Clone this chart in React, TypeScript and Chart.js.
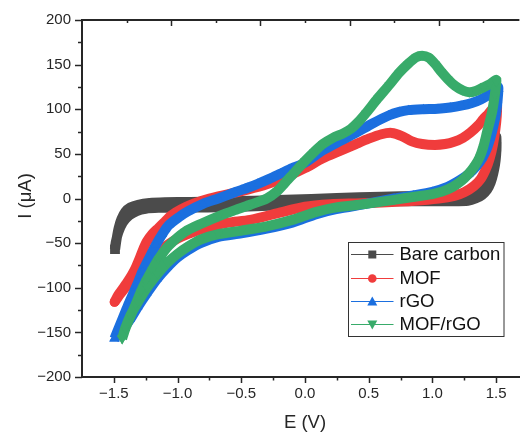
import React, { useEffect, useRef } from "react";
import { Chart, registerables } from "chart.js";

Chart.register(...registerables);

// ---------- axes ----------
const X_MIN = -1.75;
const X_MAX = 1.683;
const Y_MIN = -200;
const Y_MAX = 200;
const X_TICKS = [-1.5, -1.0, -0.5, 0, 0.5, 1.0, 1.5];
const X_MINOR = [-1.25, -0.75, -0.25, 0.25, 0.75, 1.25];
const Y_TICKS = [-200, -150, -100, -50, 0, 50, 100, 150, 200];
const Y_MINOR = [-175, -125, -75, -25, 25, 75, 125, 175];
const TOP_MAJOR = [-1.05, -0.35, 0.35, 1.05];
const TOP_MINOR = [-1.4, -0.7, 0, 0.7, 1.4];
const X_TITLE = "E (V)";
const Y_TITLE = "I (\u03bcA)";

// ---------- series ----------
const SERIES_NAMES = ["Bare carbon", "MOF", "rGO", "MOF/rGO"];
const SERIES_COLORS = ["#4b4b4b", "#f03c3c", "#1b6fdf", "#38ab6a"];

const BARE_E = [
  -1.49, -1.478, -1.462, -1.44, -1.41, -1.37, -1.31, -1.22, -1.1, -0.9, -0.7, -0.4, -0.15, 0.25, 0.6, 0.9, 1.1, 1.21,
  1.29, 1.34, 1.39, 1.427, 1.455, 1.475, 1.487, 1.494,
  1.502, 1.503, 1.5, 1.492, 1.478, 1.458, 1.43, 1.39, 1.34, 1.28, 1.15, 0.8, 0.5, 0.25, -0.17, -0.5, -0.76, -1.0,
  -1.15, -1.25, -1.32, -1.38, -1.43, -1.465, -1.485, -1.492,
];
const BARE_I = [
  -57, -45, -33, -23, -15, -10, -7, -5, -4.2, -3.8, -3.3, -2.5, -1.5, 0.6, 2, 2.8, 3.5, 4.5,
  7, 10, 15, 20, 30, 41, 55, 69,
  69, 58, 48, 38, 28, 18, 10, 4, 0, -2.5, -3, -3, -3.5, -4.5, -7.6, -9.2, -10, -10.3,
  -10.5, -11.5, -14, -19, -27, -38, -49, -57,
];

const MOF_E = [
  -1.495, -1.465, -1.43, -1.4, -1.36, -1.33, -1.3, -1.27, -1.24, -1.2, -1.15, -1.1, -1.05, -0.97, -0.87, -0.75, -0.6,
  -0.45, -0.3, -0.15, 0.0, 0.14, 0.27, 0.4, 0.5, 0.6, 0.68, 0.76, 0.84, 0.92, 1.02, 1.1, 1.17, 1.24, 1.3, 1.36, 1.4,
  1.44, 1.475, 1.505,
  1.508, 1.505, 1.495, 1.475, 1.45, 1.42, 1.38, 1.327, 1.25, 1.173, 1.05, 0.86, 0.6, 0.4, 0.2, 0.0, -0.22, -0.43,
  -0.6, -0.7, -0.8, -0.92, -1.0, -1.07, -1.15, -1.22, -1.28, -1.34, -1.4, -1.45, -1.495,
];
const MOF_I = [
  -116, -108, -101, -95, -86, -78, -68, -57, -48, -40, -33, -26, -19, -12, -5.5, 0, 5,
  10, 16, 24, 34, 45, 53, 61, 67, 72, 73.5, 70, 64, 61, 60, 61, 63.5, 68, 74, 82, 89,
  95, 101, 106,
  104, 92, 78, 60, 45, 33, 22, 14, 7, 3, 0, -2.5, -4.5, -5.5, -6.5, -9.3, -16.7, -24,
  -27, -30, -34, -40, -45, -51, -60, -70, -79, -88, -98, -107, -116,
];

const RGO_E = [
  -1.495, -1.47, -1.43, -1.39, -1.35, -1.31, -1.276, -1.22, -1.17, -1.12, -1.07, -0.99, -0.92, -0.8, -0.68, -0.55,
  -0.45, -0.37, -0.28, -0.19, -0.1, 0.0, 0.14, 0.27, 0.4, 0.53, 0.657, 0.74, 0.812, 0.93, 1.044, 1.14, 1.225, 1.31,
  1.38, 1.44, 1.482, 1.515,
  1.518, 1.512, 1.5, 1.48, 1.455, 1.425, 1.39, 1.345, 1.29, 1.22, 1.12, 1.0, 0.85, 0.7, 0.48, 0.245, 0.09, -0.1,
  -0.31, -0.5, -0.68, -0.82, -0.92, -1.0, -1.08, -1.16, -1.24, -1.31, -1.37, -1.43, -1.495,
];
const RGO_I = [
  -157, -148, -134, -120, -107, -94, -82, -66, -52, -40, -30, -21, -14.5, -6, 0, 7,
  12, 16.5, 22, 28, 34, 40, 54, 64, 73.5, 84, 93, 97, 99, 100, 100.5, 102, 104, 107,
  111, 116, 120, 125,
  123, 110, 96, 82, 68, 55, 45, 36, 28, 21, 13, 7.5, 3.5, 0, -6, -12, -17.5, -27,
  -34, -39, -43, -50, -58, -66, -77, -90, -106, -121, -135, -147, -157,
];

const MOFRGO_E = [
  -1.435, -1.41, -1.37, -1.33, -1.29, -1.25, -1.2, -1.15, -1.07, -0.94, -0.81, -0.68, -0.55, -0.42, -0.3, -0.22,
  -0.16, -0.09, 0.0, 0.07, 0.14, 0.22, 0.3, 0.36, 0.42, 0.48, 0.57, 0.66, 0.74, 0.81, 0.87, 0.92, 0.97, 1.02, 1.07,
  1.12, 1.18, 1.24, 1.29, 1.34, 1.4, 1.45, 1.5,
  1.502, 1.49, 1.47, 1.45, 1.43, 1.4, 1.37, 1.33, 1.28, 1.23, 1.16, 1.08, 1.0, 0.86, 0.7, 0.48, 0.245, 0.09, -0.1,
  -0.31, -0.5, -0.68, -0.82, -0.92, -1.0, -1.08, -1.16, -1.24, -1.31, -1.37, -1.41, -1.435,
];
const MOFRGO_I = [
  -157, -146, -132, -119, -105, -93, -80, -68, -53, -37, -28, -20, -13, -6.5, 0, 8,
  17, 28, 42, 52, 61, 68, 73, 78, 86, 96, 112, 127, 141, 151, 158, 160, 158, 151, 142,
  134, 126, 121, 119, 120.5, 124.5, 128, 133,
  131, 116, 98, 86, 75, 58, 46, 36, 27, 20, 13, 8, 5, 2, -1.5, -6, -10, -15, -24,
  -31.5, -36, -40, -46, -54, -62, -72, -85, -100, -116, -131, -145, -157,
];

const SERIES_E = [BARE_E, MOF_E, RGO_E, MOFRGO_E];
const SERIES_I = [BARE_I, MOF_I, RGO_I, MOFRGO_I];
const POINT_STYLES = ["rect", "circle", "triangle", "triangle"];
const POINT_ROT = [0, 0, 0, 180];
const END_R = [6.6, 4.8, 6.0, 6.0];
const MID_R = [0, 0, 5.4, 5.4];

const FONT = "'Liberation Sans', Arial, Helvetica, sans-serif";
const AXIS_COLOR = "#262626";
const TEXT_COLOR = "#262626";

const fmt = (v: number, d: number) => (v < 0 ? "\u2212" : "") + Math.abs(v).toFixed(d);

function drawMarker(ctx: CanvasRenderingContext2D, kind: number, x: number, y: number) {
  ctx.beginPath();
  if (kind === 0) {
    ctx.rect(x - 4, y - 4, 8, 8);
  } else if (kind === 1) {
    ctx.arc(x, y, 4.3, 0, Math.PI * 2);
  } else if (kind === 2) {
    ctx.moveTo(x, y - 5);
    ctx.lineTo(x + 5, y + 4);
    ctx.lineTo(x - 5, y + 4);
    ctx.closePath();
  } else {
    ctx.moveTo(x, y + 5);
    ctx.lineTo(x + 5, y - 4);
    ctx.lineTo(x - 5, y - 4);
    ctx.closePath();
  }
  ctx.fill();
}

const decorPlugin = {
  id: "decor",
  afterDraw(chart: any) {
    const { ctx, chartArea: a, scales } = chart;
    const x = scales.x;
    const y = scales.y;
    ctx.save();
    ctx.strokeStyle = AXIS_COLOR;
    // top axis line
    ctx.lineWidth = 2;
    ctx.beginPath();
    ctx.moveTo(a.left - 1, a.top);
    ctx.lineTo(a.right, a.top);
    ctx.stroke();
    ctx.lineWidth = 1.5;
    const tick = (x1: number, y1: number, x2: number, y2: number) => {
      ctx.beginPath();
      ctx.moveTo(x1, y1);
      ctx.lineTo(x2, y2);
      ctx.stroke();
    };
    X_TICKS.forEach((v) => {
      const px = Math.round(x.getPixelForValue(v)) + 0.5;
      tick(px, a.bottom, px, a.bottom + 6);
    });
    X_MINOR.forEach((v) => {
      const px = Math.round(x.getPixelForValue(v)) + 0.5;
      tick(px, a.bottom, px, a.bottom + 3.5);
    });
    Y_TICKS.forEach((v) => {
      const py = Math.round(y.getPixelForValue(v)) + 0.5;
      tick(a.left - 7, py, a.left, py);
    });
    Y_MINOR.forEach((v) => {
      const py = Math.round(y.getPixelForValue(v)) + 0.5;
      tick(a.left - 4, py, a.left, py);
    });
    TOP_MAJOR.forEach((v) => {
      const px = Math.round(x.getPixelForValue(v)) + 0.5;
      tick(px, a.top, px, a.top + 6);
    });
    TOP_MINOR.forEach((v) => {
      const px = Math.round(x.getPixelForValue(v)) + 0.5;
      tick(px, a.top, px, a.top + 3);
    });

    // axis titles
    ctx.fillStyle = TEXT_COLOR;
    ctx.font = `18.5px ${FONT}`;
    ctx.textAlign = "center";
    ctx.textBaseline = "middle";
    ctx.fillText(X_TITLE, x.getPixelForValue(0), 423);
    ctx.save();
    ctx.translate(25.5, 196);
    ctx.rotate(-Math.PI / 2);
    ctx.fillText(Y_TITLE, 0, 0);
    ctx.restore();

    // legend
    const bx = 348.5, by = 242.5, bw = 155.5, bh = 94;
    ctx.fillStyle = "#ffffff";
    ctx.fillRect(bx, by, bw, bh);
    ctx.strokeStyle = "#333333";
    ctx.lineWidth = 1;
    ctx.strokeRect(bx, by, bw, bh);
    const rows = [254.3, 278.3, 300.7, 324];
    SERIES_NAMES.forEach((name, i) => {
      const ry = rows[i];
      ctx.strokeStyle = SERIES_COLORS[i];
      ctx.lineWidth = 1;
      ctx.beginPath();
      ctx.moveTo(351, Math.round(ry) + 0.5);
      ctx.lineTo(393.5, Math.round(ry) + 0.5);
      ctx.stroke();
      ctx.fillStyle = SERIES_COLORS[i];
      drawMarker(ctx, i, 372.3, Math.round(ry) + 0.5);
      ctx.fillStyle = "#111111";
      ctx.font = `18.5px ${FONT}`;
      ctx.textAlign = "left";
      ctx.textBaseline = "middle";
      ctx.fillText(name, 399.5, ry + 1);
    });
    ctx.restore();
  },
};

export default function App() {
  const canvasRef = useRef<HTMLCanvasElement | null>(null);

  useEffect(() => {
    document.body.style.margin = "0";
    const canvas = canvasRef.current;
    if (!canvas) return;
    const datasets = SERIES_NAMES.map((name, i) => {
      const es = SERIES_E[i];
      const n = es.length;
      let turn = 0;
      es.forEach((e, k) => {
        if (e > es[turn]) turn = k;
      });
      return {
        label: name,
        data: es.map((e, k) => ({ x: e, y: SERIES_I[i][k] })),
        showLine: true,
        borderColor: SERIES_COLORS[i],
        backgroundColor: SERIES_COLORS[i],
        borderWidth: 10,
        borderJoinStyle: "round" as const,
        borderCapStyle: "butt" as const,
        tension: 0.25,
        pointStyle: POINT_STYLES[i] as any,
        rotation: POINT_ROT[i],
        pointRadius: (c: any) => {
          const k = c.dataIndex;
          return k === 0 || k === n - 1 || k === turn ? END_R[i] : MID_R[i];
        },
        pointBorderWidth: 0,
        pointBackgroundColor: SERIES_COLORS[i],
        order: 3 - i,
      };
    });

    const chart = new Chart(canvas, {
      type: "scatter",
      data: { datasets },
      options: {
        responsive: false,
        maintainAspectRatio: false,
        animation: false,
        devicePixelRatio: 1,
        layout: { padding: { top: 18, right: 0, bottom: 0, left: 0 } },
        plugins: { legend: { display: false }, tooltip: { enabled: false } },
        scales: {
          x: {
            type: "linear",
            position: "bottom",
            min: X_MIN,
            max: X_MAX,
            afterBuildTicks: (s: any) => {
              s.ticks = X_TICKS.map((v) => ({ value: v }));
            },
            afterFit: (s: any) => {
              s.height = 58;
            },
            grid: { display: false, drawTicks: false },
            border: { display: true, color: AXIS_COLOR, width: 2 },
            ticks: {
              padding: 8,
              color: TEXT_COLOR,
              font: { family: FONT, size: 15 },
              maxRotation: 0,
              autoSkip: false,
              callback: (v: any) => fmt(Number(v), 1),
            },
          },
          y: {
            type: "linear",
            position: "left",
            min: Y_MIN,
            max: Y_MAX,
            afterBuildTicks: (s: any) => {
              s.ticks = Y_TICKS.map((v) => ({ value: v }));
            },
            afterFit: (s: any) => {
              s.width = 82;
            },
            grid: { display: false, drawTicks: false },
            border: { display: true, color: AXIS_COLOR, width: 2 },
            ticks: {
              padding: 11,
              color: TEXT_COLOR,
              font: { family: FONT, size: 15 },
              autoSkip: false,
              callback: (v: any) => fmt(Number(v), 0),
            },
          },
        },
      },
      plugins: [decorPlugin],
    });
    return () => chart.destroy();
  }, []);

  return (
    <div style={{ width: 526, height: 435, background: "#ffffff" }}>
      <canvas ref={canvasRef} width={526} height={435} style={{ display: "block" }} />
    </div>
  );
}
